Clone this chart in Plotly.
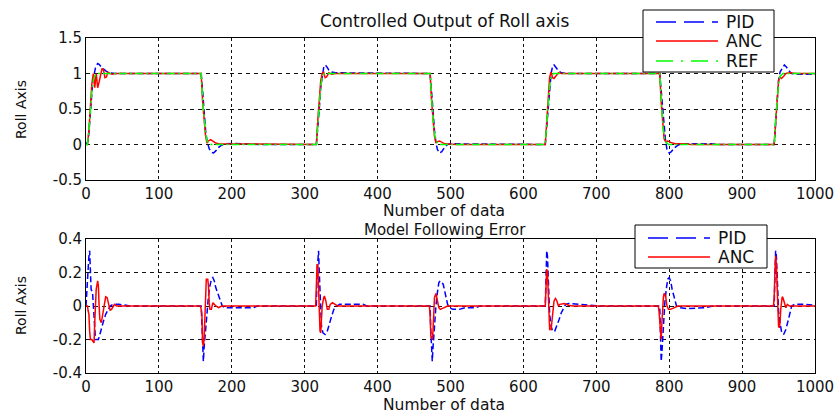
import plotly.graph_objects as go

# ---------------- data ----------------
x_ticks = [0, 100, 200, 300, 400, 500, 600, 700, 800, 900, 1000]
top_y_ticks = [-0.5, 0, 0.5, 1, 1.5]
top_y_labels = ["-0.5", "0", "0.5", "1", "1.5"]
bot_y_ticks = [-0.4, -0.2, 0, 0.2, 0.4]
bot_y_labels = ["-0.4", "-0.2", "0", "0.2", "0.4"]

# REF (model reference) output
ref_x = [0, 2, 4, 6, 8, 10, 12, 15,
         158, 160, 162, 164, 166, 170,
         316, 318, 320, 322, 324, 327,
         472, 474, 476, 478, 480, 484,
         630, 632, 634, 636, 638, 641,
         787, 789, 791, 793, 795, 799,
         944, 946, 948, 950, 952, 956, 1000]
ref_y = [0, 0, 0.2, 0.5, 0.75, 0.9, 0.97, 1,
         1, 0.62, 0.38, 0.15, 0.05, 0,
         0, 0.3, 0.6, 0.82, 0.95, 1,
         1, 0.65, 0.35, 0.15, 0.05, 0,
         0, 0.3, 0.6, 0.82, 0.95, 1,
         1, 0.6, 0.3, 0.12, 0.04, 0,
         0, 0.35, 0.65, 0.85, 0.96, 1, 1]

# PID controlled output
pid_out_x = [0, 3, 5, 7, 9, 11, 13, 16, 18, 21, 24, 28, 33, 40, 55,
             158, 160, 162, 164, 166, 169, 172, 175, 178, 182, 186, 190, 200, 225, 240,
             316, 318, 320, 322, 324, 326, 328, 330, 333, 337, 342, 370, 380,
             472, 474, 476, 478, 480, 482, 485, 488, 492, 496, 500, 535, 545,
             630, 632, 634, 636, 638, 640, 642, 645, 648, 652, 660,
             787, 789, 791, 793, 795, 797, 800, 803, 807, 812, 816, 858, 865,
             944, 946, 948, 950, 952, 955, 958, 961, 964, 968, 975, 1000]
pid_out_y = [0, 0.05, 0.3, 0.6, 0.85, 0.98, 1.08, 1.14, 1.13, 1.09, 1.06, 1.03, 1.01, 1.0, 1.0,
             1.0, 0.75, 0.45, 0.2, 0.05, -0.06, -0.11, -0.12, -0.09, -0.04, -0.01, 0.01, 0.015, 0.01, 0,
             0, 0.2, 0.5, 0.8, 0.97, 1.08, 1.12, 1.1, 1.05, 1.02, 1.01, 1.01, 1.0,
             1, 0.75, 0.45, 0.2, 0.03, -0.07, -0.12, -0.1, -0.04, 0, 0.01, 0.01, 0,
             0, 0.25, 0.55, 0.85, 1.0, 1.1, 1.12, 1.08, 1.04, 1.01, 1.0,
             1, 0.75, 0.45, 0.2, 0.05, -0.07, -0.12, -0.1, -0.05, -0.01, 0.01, 0.01, 0,
             0, 0.3, 0.65, 0.9, 1.02, 1.08, 1.12, 1.09, 1.04, 1.0, 0.99, 0.99]

# ANC controlled output
anc_out_x = [0, 2, 4, 6, 8, 10, 12, 14, 16, 18, 20, 22, 24, 26, 28, 30, 33, 36, 40,
             158, 160, 162, 164, 166, 168, 171, 174, 178, 182, 190, 200,
             316, 318, 320, 322, 324, 326, 328, 330, 333, 337, 342,
             472, 474, 476, 478, 480, 482, 485, 488, 492, 500, 510,
             630, 632, 634, 636, 638, 640, 642, 645, 648, 652,
             787, 789, 791, 793, 795, 798, 802, 808, 820, 830,
             944, 946, 948, 950, 952, 954, 957, 960, 965, 975, 1000]
anc_out_y = [0, 0, 0.2, 0.55, 0.85, 1.0, 0.8, 1.0, 0.8, 0.88, 1.0, 1.07, 1.05, 0.94, 0.95, 1.02, 1.0, 0.99, 1.0,
             1, 0.6, 0.35, 0.12, 0.02, 0.05, 0.07, 0.05, 0.02, 0.01, 0.01, 0,
             0, 0.35, 0.65, 0.9, 1.0, 1.02, 0.94, 0.95, 1.01, 0.99, 1.0,
             1, 0.62, 0.35, 0.12, 0.02, 0.04, 0.05, 0.03, 0.01, 0.005, 0,
             0, 0.35, 0.7, 0.95, 1.02, 0.94, 0.93, 0.98, 1.01, 1.0,
             1, 0.6, 0.3, 0.08, 0.04, 0.05, 0.03, 0.01, 0.01, 0,
             0, 0.35, 0.7, 0.9, 0.95, 0.93, 0.96, 1.0, 1.01, 1.0, 1.0]

# PID model following error
pid_err_x = [0, 1, 2, 3, 4, 5, 6, 7, 9, 10, 11, 12, 13, 15, 17, 19, 21, 24, 27, 30, 33, 37, 45, 55, 60,
             158, 159, 160, 161, 162, 163, 164, 166, 168, 170, 172, 174, 176, 178, 181, 184, 187, 190, 230, 235,
             316, 317, 318, 319, 320, 321, 322, 323, 325, 328, 331, 334, 337, 340, 344, 348, 380, 385,
             472, 473, 474, 475, 476, 477, 478, 480, 482, 484, 486, 488, 490, 492, 494, 496, 499, 503, 512, 520, 535, 540,
             630, 631, 632, 633, 634, 635, 636, 638, 640, 643, 646, 649, 652, 655, 658, 662, 680, 700, 705,
             787, 788, 789, 790, 791, 792, 794, 796, 798, 800, 802, 804, 806, 808, 810, 813, 825, 850, 860,
             944, 945, 946, 947, 948, 949, 950, 952, 954, 957, 960, 963, 966, 968, 972, 985, 1000]
pid_err_y = [0, 0.1, 0.1, 0.2, 0.3, 0.33, 0.2, 0.1, 0.08, 0.0, -0.1, -0.18, -0.2, -0.2, -0.2, -0.17, -0.13, -0.09, -0.05, -0.02, 0.0, 0.01, 0.01, 0.005, 0,
             0, -0.1, -0.25, -0.33, -0.25, -0.2, -0.12, -0.02, 0.06, 0.12, 0.16, 0.17, 0.15, 0.11, 0.07, 0.03, 0.0, -0.01, -0.01, 0,
             0, 0.2, 0.32, 0.33, 0.2, 0.05, -0.05, -0.12, -0.16, -0.17, -0.15, -0.1, -0.06, -0.02, 0.0, 0.01, 0.01, 0,
             0, -0.15, -0.3, -0.33, -0.25, -0.18, -0.1, 0.0, 0.08, 0.14, 0.15, 0.14, 0.13, 0.09, 0.05, 0.01, -0.01, -0.02, -0.02, -0.01, -0.01, 0,
             0, 0.25, 0.33, 0.3, 0.2, 0.05, -0.05, -0.12, -0.15, -0.15, -0.12, -0.08, -0.04, -0.01, 0.01, 0.015, 0.01, 0.005, 0,
             0, -0.2, -0.33, -0.28, -0.2, -0.1, 0.02, 0.1, 0.16, 0.17, 0.15, 0.1, 0.06, 0.02, 0.0, -0.01, -0.015, -0.01, 0,
             0, 0.2, 0.33, 0.3, 0.15, 0.05, -0.03, -0.1, -0.15, -0.17, -0.14, -0.09, -0.03, 0.0, 0.01, 0.01, 0.005]

# ANC model following error
anc_err_x = [0, 2, 3, 4, 5, 6, 8, 10, 11, 12, 13, 14, 16, 17, 18, 19, 21, 23, 25, 27, 29, 31, 33, 35, 37, 39, 42, 60,
             157, 158, 159, 160, 161, 162, 163, 164, 165, 167, 168, 169, 170, 172, 174, 176, 178, 182, 186,
             315, 316, 317, 318, 319, 320, 321, 322, 323, 324, 326, 327, 329, 331, 333, 335, 338, 341, 345,
             471, 472, 473, 475, 476, 477, 478, 480, 482, 484, 486, 490, 496,
             630, 631, 632, 633, 634, 635, 636, 638, 639, 640, 642, 644, 646, 648, 650, 656, 662, 668,
             785, 786, 787, 788, 789, 790, 791, 792, 793, 795, 797, 799, 802, 806, 812,
             943, 944, 945, 946, 947, 948, 949, 950, 951, 952, 953, 954, 955, 956, 958, 960, 962, 965, 1000]
anc_err_y = [0, 0.0, -0.03, -0.05, -0.15, -0.2, -0.2, -0.22, -0.22, -0.1, 0.0, 0.1, 0.15, 0.12, 0.0, -0.08, -0.1, -0.05, 0.02, 0.055, 0.05, 0.0, -0.025, -0.02, 0.0, 0.01, 0.0, 0,
             0, -0.02, -0.05, -0.22, -0.24, -0.2, -0.05, 0.1, 0.16, 0.16, 0.12, 0.02, -0.02, -0.02, 0.02, 0.01, 0.0, -0.01, 0.0,
             0, 0.15, 0.25, 0.24, 0.1, -0.05, -0.15, -0.16, -0.1, 0.0, 0.05, 0.06, 0.03, -0.02, -0.02, 0.01, 0.02, 0.01, 0.0,
             0, -0.05, -0.18, -0.2, -0.15, -0.02, 0.05, 0.075, 0.04, -0.01, -0.02, -0.01, 0,
             0, 0.19, 0.22, 0.2, 0.05, -0.08, -0.14, -0.14, -0.1, -0.02, 0.03, 0.045, 0.03, 0.0, 0.01, 0.015, 0.005, 0,
             0, -0.03, -0.1, -0.2, -0.2, -0.1, 0.0, 0.05, 0.075, 0.06, 0.0, -0.02, -0.02, -0.01, 0.0,
             0, 0.05, 0.2, 0.3, 0.25, 0.1, -0.05, -0.12, -0.13, -0.1, -0.02, 0.03, 0.055, 0.05, 0.02, -0.01, 0.01, 0.0, 0]

# ---------------- styling ----------------
W, H = 838, 414
FONT = "DejaVu Sans, Liberation Sans, Arial, sans-serif"
BLUE, RED, GREEN = "#0000FF", "#FF0000", "#00FF00"
PID_DASH = "6px,3px"
REF_DASH = "8px,3px,2px,3px"


def px(x):
    return x / W


def py(y):
    return 1 - y / H


fig = go.Figure()

fig.add_trace(go.Scatter(x=pid_out_x, y=pid_out_y, mode="lines", name="PID",
                         line=dict(color=BLUE, width=1.5, dash=PID_DASH),
                         xaxis="x", yaxis="y", showlegend=False))
fig.add_trace(go.Scatter(x=anc_out_x, y=anc_out_y, mode="lines", name="ANC",
                         line=dict(color=RED, width=1.5),
                         xaxis="x", yaxis="y", showlegend=False))
fig.add_trace(go.Scatter(x=ref_x, y=ref_y, mode="lines", name="REF",
                         line=dict(color=GREEN, width=1.5, dash=REF_DASH),
                         xaxis="x", yaxis="y", showlegend=False))
fig.add_trace(go.Scatter(x=pid_err_x, y=pid_err_y, mode="lines", name="PID",
                         line=dict(color=BLUE, width=1.5, dash=PID_DASH),
                         xaxis="x2", yaxis="y2", showlegend=False))
fig.add_trace(go.Scatter(x=anc_err_x, y=anc_err_y, mode="lines", name="ANC",
                         line=dict(color=RED, width=1.5),
                         xaxis="x2", yaxis="y2", showlegend=False))

xdom = [px(86), px(815)]
axis_common = dict(showline=True, linecolor="#000000", linewidth=1, mirror=True,
                   ticks="", showgrid=True, gridcolor="#111111", gridwidth=1,
                   zeroline=False, automargin=False,
                   tickfont=dict(family=FONT, size=15, color="#111111"))

fig.update_layout(
    width=W, height=H,
    margin=dict(l=0, r=0, t=0, b=0, autoexpand=False),
    paper_bgcolor="white", plot_bgcolor="white",
    xaxis=dict(domain=xdom, range=[0, 1000], tickvals=x_ticks, griddash="3px,3px",
               anchor="y", **axis_common),
    yaxis=dict(domain=[py(180), py(38)], range=[-0.5, 1.5], tickvals=top_y_ticks,
               ticktext=top_y_labels, griddash="4px,4px", anchor="x", **axis_common),
    xaxis2=dict(domain=xdom, range=[0, 1000], tickvals=x_ticks, griddash="3px,3px",
                anchor="y2", **axis_common),
    yaxis2=dict(domain=[py(373), py(239)], range=[-0.4, 0.4], tickvals=bot_y_ticks,
                ticktext=bot_y_labels, griddash="4px,4px", anchor="x2", **axis_common),
)

texts = [
    ("Controlled Output of Roll axis", 445, 21, 0, 17),
    ("Number of data", 444, 211, 0, 15.5),
    ("Model Following Error", 445, 229.5, 0, 15),
    ("Number of data", 444, 405, 0, 15.5),
    ("Roll Axis", 21, 110, -90, 14),
    ("Roll Axis", 21, 306, -90, 14),
]
annotations = []
for t, x, y, ang, sz in texts:
    annotations.append(dict(text=t, x=px(x), y=py(y), xref="paper", yref="paper",
                            showarrow=False, textangle=ang, xanchor="center", yanchor="middle",
                            borderpad=0,
                            font=dict(family=FONT, size=sz, color="#111111")))

shapes = []


def legend(box, rows):
    x0, y0, x1, y1 = box
    shapes.append(dict(type="rect", xref="paper", yref="paper", x0=px(x0), x1=px(x1),
                       y0=py(y1), y1=py(y0), fillcolor="white",
                       line=dict(color="#000000", width=1), layer="above"))
    for label, color, dash, ly in rows:
        shapes.append(dict(type="line", xref="paper", yref="paper",
                           x0=px(x0 + 13), x1=px(x0 + 75), y0=py(ly), y1=py(ly),
                           line=dict(color=color, width=1.4, dash=dash), layer="above"))
        annotations.append(dict(text=label, x=px(x0 + 81), y=py(ly), xref="paper", yref="paper",
                                showarrow=False, xanchor="left", yanchor="middle",
                                font=dict(family=FONT, size=17, color="#111111")))


legend((643, 10, 774, 72), [("PID", BLUE, "20px,8px", 22), ("ANC", RED, "solid", 41),
                            ("REF", GREEN, "17px,8px,2px,8px", 61)])
legend((635, 225, 767, 268), [("PID", BLUE, "20px,8px", 238), ("ANC", RED, "solid", 257)])

fig.update_layout(annotations=annotations, shapes=shapes)

fig.write_html("out.html", config={"displayModeBar": False},
               post_script="document.body.style.margin='0';document.body.style.overflow='hidden';")
